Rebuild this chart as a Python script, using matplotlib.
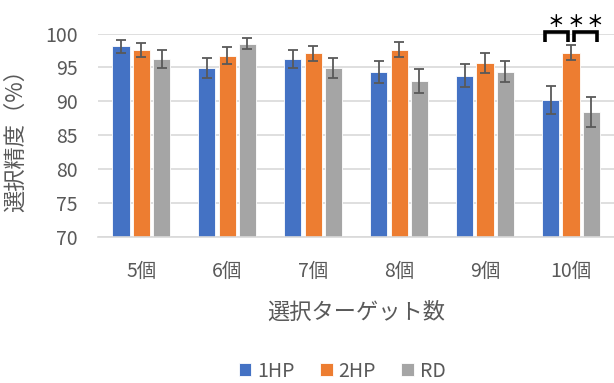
import numpy as np
import matplotlib
matplotlib.use("Agg")
import matplotlib.pyplot as plt

plt.rcParams['font.family'] = ['Noto Sans CJK JP', 'DejaVu Sans']

categories = ['5個', '6個', '7個', '8個', '9個', '10個']
series = ['1HP', '2HP', 'RD']
hp1 = [98.1, 94.9, 96.2, 94.3, 93.8, 90.2]
hp2 = [97.6, 96.7, 97.1, 97.6, 95.7, 97.2]
rd = [96.2, 98.5, 94.9, 93.0, 94.4, 88.4]
hp1_err = [0.9, 1.5, 1.3, 1.6, 1.7, 2.1]
hp2_err = [1.0, 1.25, 1.1, 1.1, 1.45, 1.1]
rd_err = [1.3, 0.85, 1.5, 1.7, 1.6, 2.25]
colors = ['#4472C4', '#ED7D31', '#A5A5A5']

fig = plt.figure(figsize=(6.14, 3.83), dpi=100)
ax = fig.add_axes([0.16, 0.381, 0.84, 0.5315])

x = np.arange(len(categories))
offs = [-0.236, 0.0, 0.236]
width = 0.2
for vals, errs, off, c, name in zip([hp1, hp2, rd], [hp1_err, hp2_err, rd_err], offs, colors, series):
    ax.bar(x + off, vals, width, color=c, edgecolor='white', linewidth=0.6, label=name, zorder=2)
    ax.errorbar(x + off, vals, yerr=errs, fmt='none', ecolor='#595959', elinewidth=1.3,
                capsize=3.5, capthick=1.3, zorder=3)

ax.set_ylim(70, 100)
ax.set_xlim(-0.5, len(categories) - 0.5)
ax.set_yticks(range(70, 101, 5))
ax.yaxis.grid(True, color='#D9D9D9', linewidth=1.2, zorder=0)
ax.set_axisbelow(True)
for s in ['top', 'right', 'left']:
    ax.spines[s].set_visible(False)
ax.spines['bottom'].set_color('#D9D9D9')
ax.spines['bottom'].set_linewidth(1.2)
ax.tick_params(axis='both', length=0, labelsize=14, colors='#595959')
ax.tick_params(axis='y', pad=15)
ax.tick_params(axis='x', pad=17)
ax.set_xticks(x)
ax.set_xticklabels(categories)
ax.set_ylabel('選択精度（%）', fontsize=16, color='#595959', labelpad=13)
ax.set_xlabel('選択ターゲット数', fontsize=16, color='#595959', labelpad=14)

# significance brackets over 10個
c10 = x[-1]
brackets = [(-0.306, -0.035), (0.035, 0.307)]
stars = [-0.172, 0.06, 0.276]
for x0, x1 in brackets:
    ax.plot([c10 + x0, c10 + x0, c10 + x1, c10 + x1], [98.8, 100.2, 100.2, 98.8],
            color='black', linewidth=2.6, clip_on=False, solid_joinstyle='miter',
            solid_capstyle='butt', zorder=4)
for sx in stars:
    ax.text(c10 + sx, 101.75, '＊', ha='center', va='center', fontsize=12,
            fontweight='bold', color='black', clip_on=False)

fig.legend(loc='center', bbox_to_anchor=(0.557, 0.031), ncol=3, frameon=False,
           fontsize=14, handlelength=0.65, handleheight=0.65, handletextpad=0.3,
           columnspacing=1.3, labelcolor='#595959')

fig.savefig('out.png', dpi=100)
